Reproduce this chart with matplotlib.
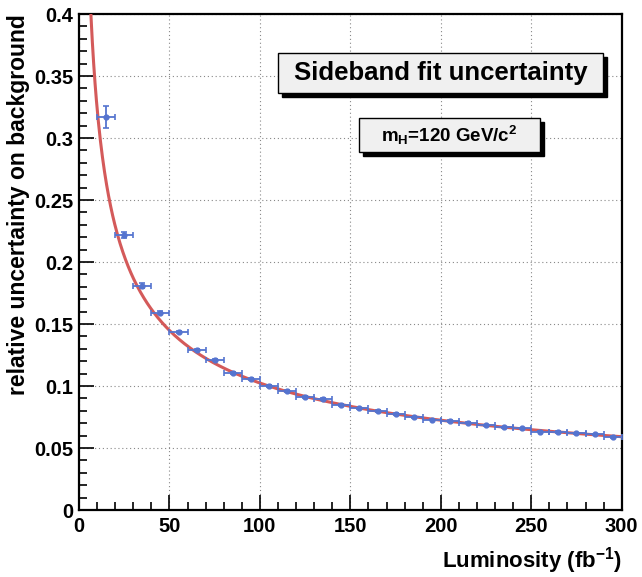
import matplotlib
matplotlib.use("Agg")
import matplotlib.pyplot as plt
import numpy as np
from matplotlib.patches import Rectangle
from matplotlib.ticker import MultipleLocator

# luminosity bins (fb^-1) and the measured relative uncertainty
lumi = [15, 25, 35, 45, 55, 65, 75, 85, 95, 105, 115, 125, 135, 145, 155,
        165, 175, 185, 195, 205, 215, 225, 235, 245, 255, 265, 275, 285, 295]
lumi_err = [5] * len(lumi)
rel_unc = [0.3167, 0.2217, 0.1808, 0.1590, 0.1437, 0.1290, 0.1210, 0.1104, 0.1060,
           0.0999, 0.0959, 0.0913, 0.0895, 0.0846, 0.0820, 0.0798, 0.0776, 0.0747,
           0.0728, 0.0717, 0.0704, 0.0683, 0.0667, 0.0658, 0.0631, 0.0629, 0.0620,
           0.0610, 0.0589]
rel_unc_err = [0.0090, 0.0025, 0.0020, 0.0012, 0.0010, 0.0010, 0.0008, 0.0008, 0.0008,
               0.0008, 0.0007, 0.0007, 0.0007, 0.0007, 0.0006, 0.0006, 0.0006, 0.0006,
               0.0006, 0.0006, 0.0005, 0.0005, 0.0005, 0.0005, 0.0005, 0.0005, 0.0005,
               0.0005, 0.0005]

# 1/sqrt(L) fit, normalisation
fit_norm = 1.024

BLUE = "#5574cf"
RED = "#d45a5a"

plt.rcParams.update({
    "font.family": "Liberation Sans", "font.weight": "bold",
    "mathtext.fontset": "custom", "mathtext.rm": "Liberation Sans:bold",
    "mathtext.it": "Liberation Sans:bold", "mathtext.bf": "Liberation Sans:bold",
    "mathtext.default": "rm",
})

fig = plt.figure(figsize=(6.42, 5.77), dpi=100)
ax = fig.add_axes([0.1231, 0.1161, 0.8453, 0.8596])

fx = np.linspace(1, 300, 800)
ax.plot(fx, fit_norm / np.sqrt(fx), color=RED, lw=2.2, zorder=3)
ax.errorbar(lumi, rel_unc, xerr=lumi_err, yerr=rel_unc_err, fmt="o", ms=3.5,
            color=BLUE, ecolor=BLUE, elinewidth=1.3, capsize=2.5, capthick=1.2, zorder=4)

ax.set_xlim(0, 300)
ax.set_ylim(0, 0.4)
ax.xaxis.set_major_locator(MultipleLocator(50))
ax.xaxis.set_minor_locator(MultipleLocator(10))
ax.yaxis.set_minor_locator(MultipleLocator(0.01))
ax.set_yticks([0, 0.05, 0.1, 0.15, 0.2, 0.25, 0.3, 0.35, 0.4])
ax.set_yticklabels(["0", "0.05", "0.1", "0.15", "0.2", "0.25", "0.3", "0.35", "0.4"])
ax.tick_params(which="both", direction="in", top=False, right=False, labelsize=14.5,
               width=1.2)
ax.tick_params(axis="x", pad=5)
ax.tick_params(axis="y", pad=4)
ax.tick_params(which="major", length=11)
ax.tick_params(which="minor", length=5.5)
ax.grid(True, which="major", ls=(0, (1, 2.5)), color="#888888", lw=0.8)
for s in ax.spines.values():
    s.set_linewidth(1.6)
    s.set_color("black")

ax.set_xlabel("Luminosity (fb$^{-1}$)", fontsize=16, fontweight="bold")
ax.set_ylabel("relative uncertainty on background", fontsize=16.5, fontweight="bold")
ax.xaxis.set_label_coords(1.0, -0.115)
ax.xaxis.label.set_ha("right")
ax.xaxis.label.set_va("baseline")
ax.yaxis.set_label_coords(-0.112, 1.0)
ax.yaxis.label.set_va("center")
ax.yaxis.label.set_ha("right")


def pave(x0, y0, x1, y1, text, size):
    # ROOT-style text box with shadow, pixel coords from top-left
    W, H = 642, 577
    sh = 4
    fig.patches.append(Rectangle(((x0 + sh) / W, 1 - (y1 + sh) / H), (x1 - x0) / W,
                                 (y1 - y0) / H, transform=fig.transFigure,
                                 facecolor="black", edgecolor="black", zorder=5))
    fig.patches.append(Rectangle((x0 / W, 1 - y1 / H), (x1 - x0) / W, (y1 - y0) / H,
                                 transform=fig.transFigure, facecolor="#f0f0f0",
                                 edgecolor="black", lw=1.0, zorder=6))
    fig.text((x0 + x1) / 2 / W, 1 - (y0 + y1) / 2 / H, text, fontsize=size,
             fontweight="bold", ha="center", va="center", zorder=7)


pave(278, 53, 603, 93, "Sideband fit uncertainty", 18.5)
pave(359, 118, 540, 152, "m$_{H}$=120 GeV/c$^{2}$", 13.5)

fig.savefig("out.png", dpi=100)
